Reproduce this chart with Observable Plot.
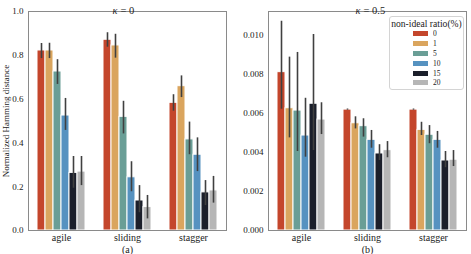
<!DOCTYPE html>
<html><head><meta charset="utf-8">
<script src="https://cdn.jsdelivr.net/npm/d3@7"></script>
<script src="https://cdn.jsdelivr.net/npm/@observablehq/plot@0.6"></script>
<style>
body{margin:0;background:#fff;}
#wrap{position:relative;width:471px;height:254px;overflow:hidden;font-family:'Liberation Serif',serif;background:#fff;}
#wrap svg, #wrap svg text{font-family:'Liberation Serif',serif;}
#left,#right{position:absolute;top:0;}
#left{left:0}
#right{left:231px}
#legend{position:absolute;left:389px;top:16px;width:75px;height:74px;border:1px solid #d4d4d4;border-radius:3px;background:rgba(255,255,255,0.9);box-sizing:border-box;}
#legend .ttl{font-size:9.6px;text-align:center;margin-top:1px;line-height:11px;white-space:nowrap;color:#222;}
#legend .lg-swatches{margin:0;padding-left:23px;font-family:'Liberation Serif',serif;font-size:7.5px;color:#222;}
#legend .lg-swatch{height:9.8px;padding-bottom:0;}
#legend .lg-swatch > svg{margin-right:5px;}
</style></head>
<body>
<div id="wrap"><div id="left"></div><div id="right"></div><div id="legend"><div class="ttl">non-ideal ratio(%)</div></div></div>
<script>
const categories = ["agile", "sliding", "stagger"];
const ratios = ["0", "1", "5", "10", "15", "20"];
const colors = ["#c4462c", "#daa55e", "#6a9e96", "#5692c0", "#1b1f2b", "#b6b6b6"];

// kappa = 0
const k0Mean = {
  agile:   [0.822, 0.822, 0.726, 0.525, 0.263, 0.269],
  sliding: [0.871, 0.845, 0.519, 0.243, 0.137, 0.107],
  stagger: [0.583, 0.659, 0.416, 0.346, 0.174, 0.183]
};
const k0Lo = {
  agile:   [0.785, 0.785, 0.667, 0.457, 0.193, 0.205],
  sliding: [0.837, 0.787, 0.441, 0.177, 0.081, 0.053],
  stagger: [0.545, 0.607, 0.346, 0.269, 0.114, 0.125]
};
const k0Hi = {
  agile:   [0.854, 0.855, 0.780, 0.603, 0.338, 0.338],
  sliding: [0.903, 0.896, 0.590, 0.314, 0.205, 0.160],
  stagger: [0.620, 0.706, 0.495, 0.423, 0.228, 0.247]
};
// kappa = 0.5
const k5Mean = {
  agile:   [0.00812, 0.00627, 0.00615, 0.00487, 0.00650, 0.00569],
  sliding: [0.00620, 0.00550, 0.00535, 0.00465, 0.00395, 0.00412],
  stagger: [0.00620, 0.00516, 0.00491, 0.00465, 0.00359, 0.00363]
};
const k5Lo = {
  agile:   [0.00622, 0.00475, 0.00405, 0.00376, 0.00410, 0.00492],
  sliding: [0.00617, 0.00521, 0.00479, 0.00422, 0.00359, 0.00373],
  stagger: [0.00617, 0.00487, 0.00445, 0.00422, 0.00322, 0.00328]
};
const k5Hi = {
  agile:   [0.01073, 0.00889, 0.00913, 0.00678, 0.01005, 0.00655],
  sliding: [0.00623, 0.00583, 0.00573, 0.00513, 0.00440, 0.00456],
  stagger: [0.00623, 0.00555, 0.00538, 0.00508, 0.00405, 0.00410]
};
const k0Ticks = [0, 0.2, 0.4, 0.6, 0.8, 1.0];
const k5Ticks = [0, 0.002, 0.004, 0.006, 0.008, 0.010];
const k0Domain = [0, 1];
const k5Domain = [0, 0.01123];

function rows(mean, lo, hi) {
  const out = [];
  for (const c of categories) ratios.forEach((r, j) => out.push({cat: c, ratio: r, mean: mean[c][j], lo: lo[c][j], hi: hi[c][j]}));
  return out;
}
const k0Rows = rows(k0Mean, k0Lo, k0Hi);
const k5Rows = rows(k5Mean, k5Lo, k5Hi);

const serif = "'Liberation Serif', serif";
const frameColor = "#8a8a8a";
function panel({data, domain, ticks, fmt, width, marginLeft, ylabel, sub, kval, kdx, vdx}) {
  return Plot.plot({
    width, height: 254, marginLeft, marginRight: 4, marginTop: 11, marginBottom: 24,
    style: {fontFamily: serif, fontSize: "9px", background: "transparent", color: "#222"},
    fx: {domain: categories, paddingInner: 0, paddingOuter: 0},
    x: {domain: ratios, paddingInner: 0, paddingOuter: 0.75, axis: null},
    y: {domain, axis: null},
    color: {domain: ratios, range: colors},
    marks: [
      Plot.barY(data, {fx: "cat", x: "ratio", y: "mean", fill: "ratio", stroke: "white", strokeWidth: 1}),
      Plot.ruleX(data, {fx: "cat", x: "ratio", y1: "lo", y2: "hi", stroke: "#404040", strokeWidth: 1.6}),
      Plot.ruleY([domain[0], domain[1]], {stroke: frameColor}),
      Plot.frame({anchor: "left", facetAnchor: "left", stroke: frameColor}),
      Plot.frame({anchor: "right", facetAnchor: "right", stroke: frameColor}),
      Plot.axisY({ticks, tickSize: 0, tickPadding: 5, tickFormat: fmt, fontSize: 9, fontFamily: serif, label: ylabel, labelAnchor: "center", labelOffset: 26, labelArrow: "none"}),
      Plot.axisFx({anchor: "bottom", tickSize: 0, tickPadding: 3, fontSize: 10, fontFamily: serif, label: sub, labelAnchor: "center", labelOffset: 22}),
      Plot.text(["κ"], {fx: ["sliding"], frameAnchor: "top", dy: -5, dx: kdx, textAnchor: "end", fontStyle: "italic", fontSize: 10.5, fontFamily: serif}),
      Plot.text([kval], {fx: ["sliding"], frameAnchor: "top", dy: -5, dx: vdx, textAnchor: "start", fontSize: 10.5, fontFamily: serif})
    ]
  });
}

document.getElementById("left").append(panel({data: k0Rows, domain: k0Domain, ticks: k0Ticks, fmt: ".1f", width: 231, marginLeft: 27, ylabel: "Normalized Hamming distance", sub: "(a)", kval: "= 0", kdx: -10, vdx: -7}));
document.getElementById("right").append(panel({data: k5Rows, domain: k5Domain, ticks: k5Ticks, fmt: ".3f", width: 240, marginLeft: 36, ylabel: null, sub: "(b)", kval: "= 0.5", kdx: -7, vdx: -4}));

const lg = Plot.legend({color: {domain: ratios, range: colors}, legend: "swatches", columns: 1, swatchWidth: 15, swatchHeight: 5, className: "lg"});
document.getElementById("legend").append(lg);
</script>
</body></html>
